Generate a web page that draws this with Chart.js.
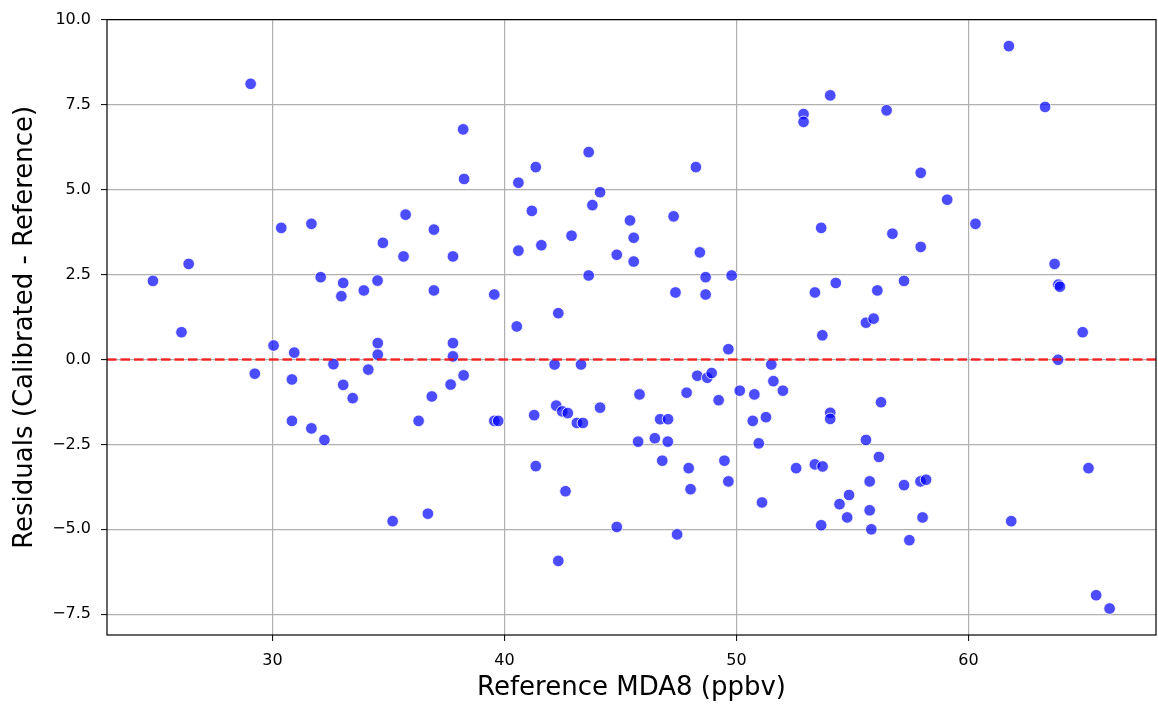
<!DOCTYPE html>
<html>
<head>
<meta charset="utf-8">
<script src="https://cdn.jsdelivr.net/npm/chart.js@4.4.1/dist/chart.umd.min.js"></script>
<style>
  html, body { margin: 0; padding: 0; background: #ffffff; }
  #chartBox { width: 1158px; height: 707px; }
</style>
</head>
<body>
<div id="chartBox"><canvas id="residualChart" width="1158" height="707"></canvas></div>
<script>
/* --------------- Data: reference MDA8 (ppbv) and residuals --------------------- */
const refMda8 = [
  29.06, 38.22, 38.26, 30.38, 31.68, 35.74, 36.96, 34.76, 35.65, 37.78,
  26.39, 24.85, 32.08, 33.05, 32.97, 33.94, 34.53, 36.96, 26.08, 30.05,
  30.94, 34.54, 34.54, 37.78, 37.78, 29.24, 32.63, 30.84, 34.13, 33.05,
  33.46, 37.68, 38.24, 36.87, 30.84, 31.68, 32.24, 36.30, 35.18, 36.70,
  43.63, 41.35, 40.60, 48.25, 52.89, 52.89, 44.12, 43.79, 41.18, 45.41,
  47.29, 45.57, 42.89, 40.60, 41.59, 44.84, 45.57, 48.42, 43.63, 48.67,
  49.79, 39.56, 47.37, 48.67, 42.32, 40.53, 53.38, 53.65, 49.65, 42.16,
  43.30, 51.50, 48.31, 48.74, 48.93, 51.59, 52.00, 50.14, 50.77, 47.85,
  45.82, 49.23, 44.12, 42.23, 42.49, 42.73, 41.28, 39.56, 39.73, 43.12,
  43.38, 46.71, 47.05, 50.70, 51.27, 45.76, 46.48, 47.04, 50.96, 41.35,
  46.80, 47.94, 49.48, 52.57, 53.38, 49.65, 48.02, 42.63, 51.10, 44.84,
  47.44, 42.32, 53.65, 53.70, 61.74, 54.04, 56.47, 63.30, 57.94, 59.08,
  60.30, 56.72, 57.94, 63.71, 54.28, 56.07, 57.22, 63.87, 63.94, 55.58,
  55.91, 64.92, 63.86, 56.23, 54.04, 54.04, 55.58, 56.14, 53.71, 55.74,
  57.22, 57.93, 58.17, 54.85, 54.44, 54.77, 55.74, 58.02, 55.81, 57.45,
  61.84, 65.17, 65.50, 66.08
];
const residuals = [
  8.11, 6.77, 5.31, 3.87, 3.99, 4.26, 3.82, 3.43, 3.03, 3.03,
  2.81, 2.31, 2.42, 2.25, 1.86, 2.03, 2.32, 2.03, 0.80, 0.41,
  0.20, 0.48, 0.14, 0.48, 0.09, -0.42, -0.14, -0.59, -0.30, -0.75,
  -1.14, -0.74, -0.47, -1.09, -1.81, -2.03, -2.37, -1.81, -4.76, -4.54,
  6.10, 5.66, 5.20, 5.66, 7.22, 6.99, 4.92, 4.54, 4.37, 4.09,
  4.21, 3.58, 3.64, 3.20, 3.36, 3.08, 2.88, 3.15, 2.47, 2.42,
  2.47, 1.91, 1.97, 1.91, 1.36, 0.97, 1.97, 3.87, 0.30, -0.15,
  -0.15, -0.15, -0.48, -0.54, -0.40, -0.64, -0.92, -0.92, -1.03, -0.98,
  -1.03, -1.20, -1.42, -1.36, -1.53, -1.58, -1.64, -1.81, -1.81, -1.87,
  -1.87, -1.76, -1.76, -1.81, -1.70, -2.42, -2.32, -2.42, -2.47, -3.14,
  -2.98, -3.20, -2.98, -3.20, -3.09, -3.59, -3.82, -3.88, -4.21, -4.93,
  -5.15, -5.93, -4.88, 0.71, 9.22, 7.77, 7.33, 7.43, 5.49, 4.70,
  3.99, 3.70, 3.31, 2.81, 2.25, 2.03, 2.31, 2.20, 2.14, 1.08,
  1.20, 0.80, -0.01, -1.26, -1.57, -1.75, -2.37, -2.87, -3.15, -3.59,
  -3.70, -3.59, -3.54, -3.99, -4.26, -4.65, -4.44, -4.65, -5.00, -5.32,
  -4.76, -3.20, -6.94, -7.33
];
/* --------------- Ticks and axis range --------------------- */
const xTicks = [30, 40, 50, 60];
const yTicks = [-7.5, -5.0, -2.5, 0.0, 2.5, 5.0, 7.5, 10.0];
const xRange = [22.87, 68.08];
const yRange = [-8.11, 10.0];
const zeroLevel = 0;

const points = refMda8.map((x, i) => ({ x: x, y: residuals[i] }));
const fontFamily = "'DejaVu Sans', 'Liberation Sans', sans-serif";

/* --------------- Dashed zero line + full frame --------------------- */
const zeroLinePlugin = {
  id: "zeroLine",
  afterDatasetsDraw(chart) {
    const { ctx, chartArea, scales } = chart;
    const y = scales.y.getPixelForValue(zeroLevel);
    ctx.save();
    ctx.strokeStyle = "rgba(255,0,0,0.8)";
    ctx.lineWidth = 2.5;
    ctx.setLineDash([9.5, 4]);
    ctx.beginPath();
    ctx.moveTo(chartArea.left, y);
    ctx.lineTo(chartArea.right, y);
    ctx.stroke();
    ctx.restore();
  },
  afterDraw(chart) {
    const { ctx, chartArea } = chart;
    ctx.save();
    ctx.strokeStyle = "#000000";
    ctx.lineWidth = 1.2;
    ctx.strokeRect(chartArea.left, chartArea.top,
      chartArea.right - chartArea.left, chartArea.bottom - chartArea.top);
    ctx.restore();
  },
};

/* --------------- Chart --------------------- */
const residualChart = new Chart(document.getElementById("residualChart"), {
  type: "scatter",
  plugins: [zeroLinePlugin],
  data: {
    datasets: [{
      data: points,
      backgroundColor: "rgba(0,0,255,0.7)",
      borderColor: "#ffffff",
      borderWidth: 0.8,
      pointRadius: 5.8,
      pointHoverRadius: 5.8,
    }],
  },
  options: {
    responsive: false,
    animation: false,
    devicePixelRatio: 1,
    layout: { autoPadding: false, padding: { top: 19, right: 2, bottom: 0, left: 0 } },
    plugins: { legend: { display: false }, tooltip: { enabled: false } },
    scales: {
      x: {
        type: "linear",
        min: xRange[0],
        max: xRange[1],
        afterBuildTicks: (scale) => { scale.ticks = xTicks.map((v) => ({ value: v })); },
        afterFit: (scale) => { scale.height = 72; },
        grid: { color: "#b0b0b0", lineWidth: 1.2, tickColor: "#000000", tickLength: 6, tickWidth: 1 },
        border: { display: false },
        ticks: {
          color: "#000000",
          padding: 10,
          maxRotation: 0,
          font: { family: fontFamily, size: 16 },
          callback: (v) => String(v),
        },
        title: {
          display: true,
          text: "Reference MDA8 (ppbv)",
          color: "#000000",
          font: { family: fontFamily, size: 26 },
          padding: { top: 0, bottom: 3 },
        },
      },
      y: {
        type: "linear",
        min: yRange[0],
        max: yRange[1],
        afterBuildTicks: (scale) => { scale.ticks = yTicks.map((v) => ({ value: v })); },
        afterFit: (scale) => { scale.width = 107; },
        grid: { color: "#b0b0b0", lineWidth: 1.2, tickColor: "#000000", tickLength: 6, tickWidth: 1 },
        border: { display: false },
        ticks: {
          color: "#000000",
          padding: 10,
          font: { family: fontFamily, size: 16 },
          callback: (v) => v.toFixed(1).replace("-", "\u2212"),
        },
        title: {
          display: true,
          text: "Residuals (Calibrated - Reference)",
          color: "#000000",
          font: { family: fontFamily, size: 26 },
          padding: { top: 10, bottom: 0 },
        },
      },
    },
  },
});
</script>
</body>
</html>
